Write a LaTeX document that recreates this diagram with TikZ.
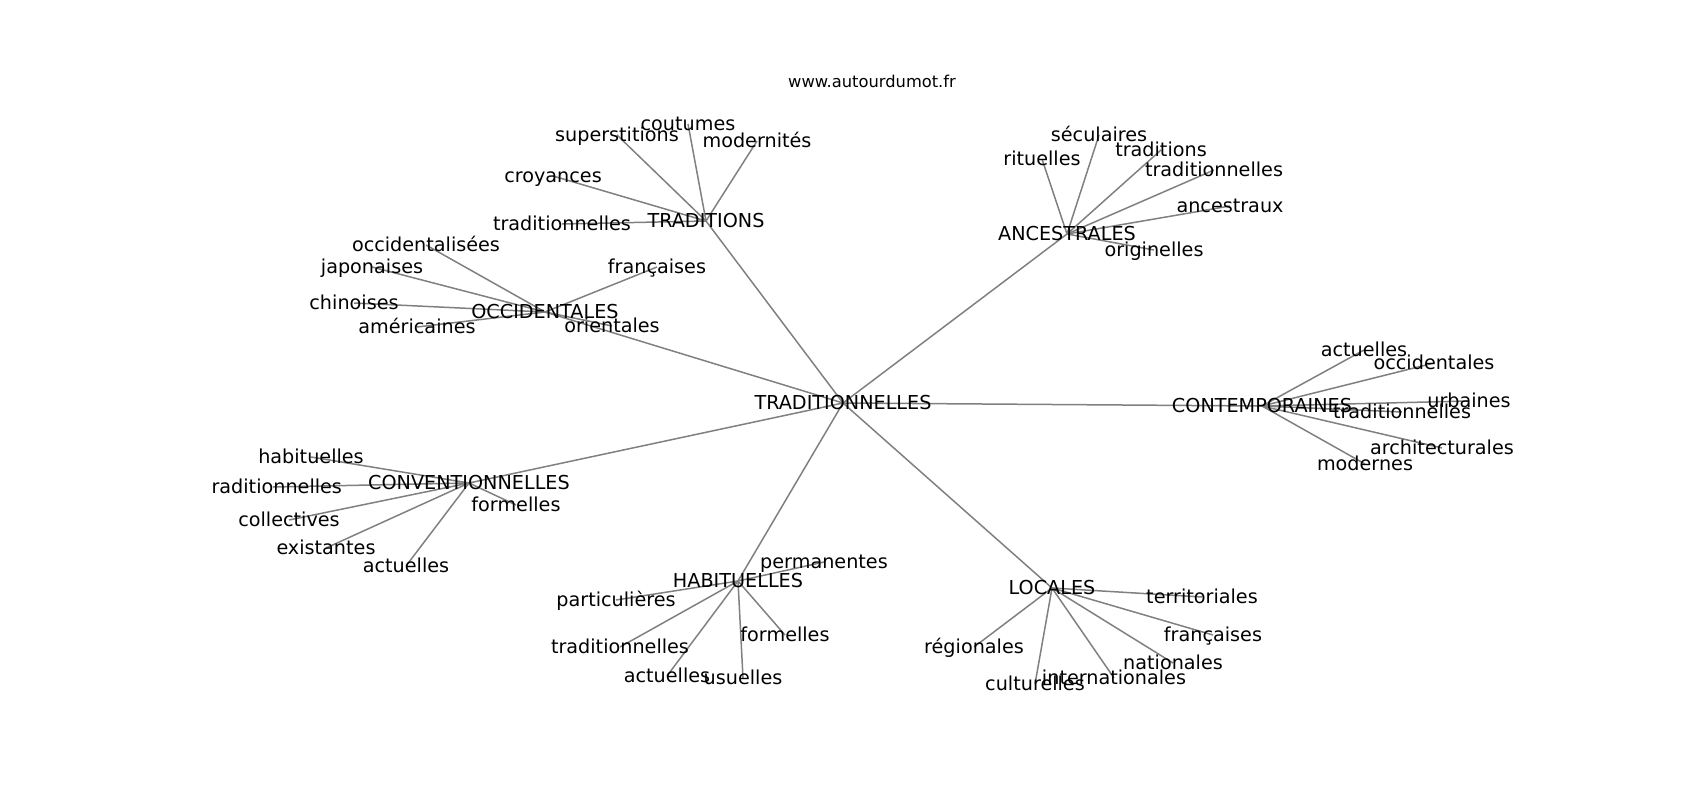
\documentclass[tikz,border=0pt]{standalone}
\usepackage{fontspec}
\setmainfont{DejaVu Sans}
\usetikzlibrary{backgrounds}
\definecolor{edgegray}{HTML}{808080}
\tikzset{
  word/.style={inner sep=0pt, text height=12pt, text depth=0pt,
    font=\fontsize{19.2}{23}\selectfont},
  link/.style={draw=edgegray, line width=1.5pt},
}
\begin{document}
\begin{tikzpicture}[x=1pt,y=-1pt]
\useasboundingbox (0,0) rectangle (1700,800);
\node[word, text height=10pt, font=\fontsize{16.3}{19}\selectfont] (site) at (872,83) {www.autourdumot.fr};
\begin{scope}
  \clip (212.5,96) rectangle (1530,712);
  % hubs
  \node[word] (trad) at (843,403) {TRADITIONNELLES};
  \node[word] (trads) at (706,221) {TRADITIONS};
  \node[word] (occ) at (545,312) {OCCIDENTALES};
  \node[word] (anc) at (1067,234) {ANCESTRALES};
  \node[word] (cont) at (1262,406) {CONTEMPORAINES};
  \node[word] (conv) at (469,483) {CONVENTIONNELLES};
  \node[word] (hab) at (738,581) {HABITUELLES};
  \node[word] (loc) at (1052,588) {LOCALES};
  \begin{pgfonlayer}{background}
    \foreach \hub in {trads,occ,anc,cont,conv,hab,loc}
      \draw[link] (trad.center) -- (\hub.center);
  \end{pgfonlayer}
  % leaves
  \foreach \hub/\x/\y/\txt [count=\i] in {
      trads/617/135/superstitions, trads/688/124/coutumes,
      trads/757/141/modernités, trads/553/176/croyances,
      trads/562/224/traditionnelles,
      occ/426/245/occidentalisées, occ/372/267/japonaises,
      occ/657/267/françaises, occ/354/303/chinoises,
      occ/417/327/américaines, occ/612/326/orientales,
      anc/1099/135/séculaires, anc/1042/159/rituelles,
      anc/1161/150/traditions, anc/1214/170/traditionnelles,
      anc/1230/206/ancestraux, anc/1154/250/originelles,
      cont/1364/350/actuelles, cont/1434/363/occidentales,
      cont/1469/401/urbaines, cont/1402/412/traditionnelles,
      cont/1442/448/architecturales, cont/1365/464/modernes,
      conv/311/457/habituelles, conv/273/487/traditionnelles,
      conv/516/505/formelles, conv/289/520/collectives,
      conv/326/548/existantes, conv/406/566/actuelles,
      hab/824/562/permanentes, hab/616/600/particulières,
      hab/785/635/formelles, hab/620/647/traditionnelles,
      hab/667/676/actuelles, hab/743/678/usuelles,
      loc/1202/597/territoriales, loc/1213/635/françaises,
      loc/974/647/régionales, loc/1173/663/nationales,
      loc/1114/678/internationales, loc/1035/684/culturelles}{
    \node[word] (leaf\i) at (\x,\y) {\txt};
    \begin{pgfonlayer}{background}
      \draw[link] (\hub.center) -- (leaf\i.center);
    \end{pgfonlayer}
  }
\end{scope}
\end{tikzpicture}
\end{document}
